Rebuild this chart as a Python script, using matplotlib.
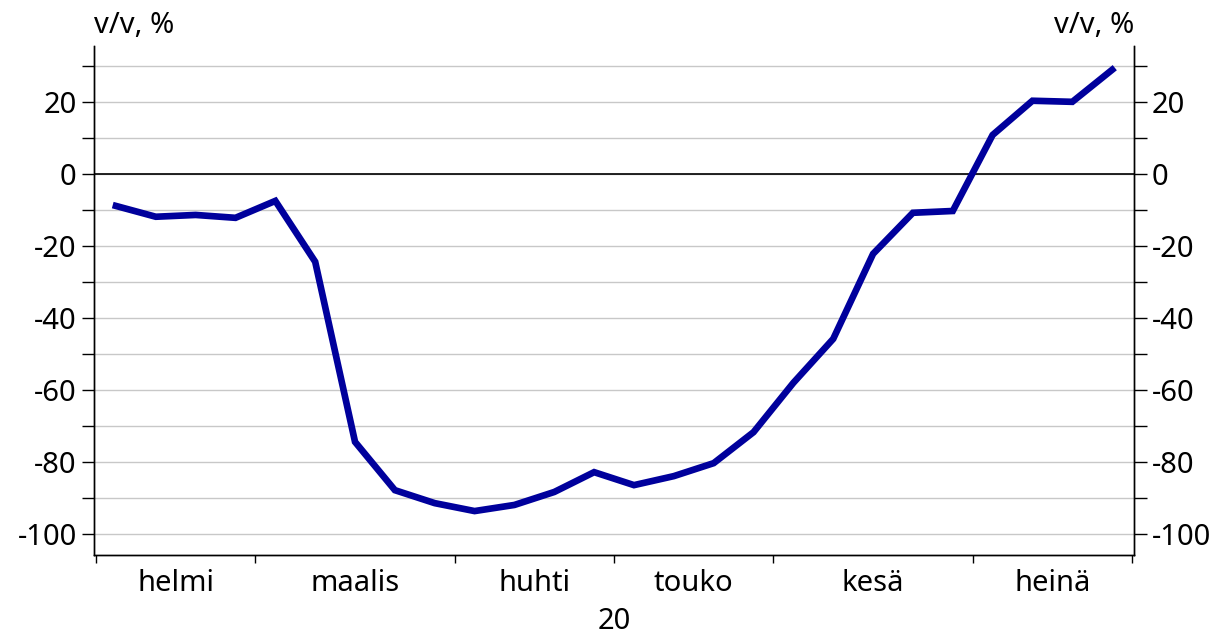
import matplotlib.pyplot as plt
from matplotlib.ticker import FixedLocator, MultipleLocator

plt.rcParams["font.family"] = ["Noto Sans", "DejaVu Sans"]
plt.rcParams["axes.unicode_minus"] = False

# weekly y/y change, Feb-Jul 2020
weekly_change = [-8.9, -11.9, -11.4, -12.2, -7.5, -24.4, -74.4, -87.8, -91.4,
                 -93.6, -91.9, -88.3, -82.8, -86.4, -83.9, -80.3, -71.7, -58.0,
                 -45.8, -22.2, -10.8, -10.3, 10.8, 20.3, 20.0, 28.9]
months = ["helmi", "maalis", "huhti", "touko", "kesä", "heinä"]
weeks_per_month = [4, 5, 4, 4, 5, 4]
year_label = "20"
unit_label = "v/v, %"

LINE_COLOR = "#00009c"
FS = 21

fig = plt.figure(figsize=(12.18, 6.37), dpi=100)
ax = fig.add_axes([0.0772, 0.1287, 0.8539, 0.7991])

weeks = list(range(len(weekly_change)))
ax.plot(weeks, weekly_change, color=LINE_COLOR, linewidth=4.8,
        solid_joinstyle="miter", zorder=3)

ax.set_xlim(-0.55, len(weekly_change) - 0.45)
ax.set_ylim(-105.8, 35.5)

# month boundaries and centres
bounds = [-0.5]
for n in weeks_per_month:
    bounds.append(bounds[-1] + n)
centres = [(bounds[i] + bounds[i + 1]) / 2 for i in range(len(months))]
ax.xaxis.set_major_locator(FixedLocator(bounds))
ax.set_xticklabels([])
ax.xaxis.set_minor_locator(FixedLocator(centres))
ax.set_xticklabels(months, minor=True, fontsize=FS)
ax.tick_params(axis="x", which="major", length=6, width=1, direction="out")
ax.tick_params(axis="x", which="minor", length=0, pad=10)

ax.yaxis.set_major_locator(MultipleLocator(20))
ax.yaxis.set_minor_locator(MultipleLocator(10))
ax.tick_params(axis="y", which="both", length=9, width=1, labelsize=FS)
ax.grid(axis="y", which="both", color="#c8c8c8", linewidth=1, zorder=1)
ax.axhline(0, color="black", linewidth=1.2, zorder=2)

ax2 = ax.twinx()
ax2.set_ylim(ax.get_ylim())
ax2.yaxis.set_major_locator(MultipleLocator(20))
ax2.yaxis.set_minor_locator(MultipleLocator(10))
ax2.tick_params(axis="y", which="both", length=9, width=1, labelsize=FS)

for a in (ax, ax2):
    a.spines["top"].set_visible(False)
    for s in ("left", "right", "bottom"):
        a.spines[s].set_linewidth(1)

fig.text(0.0772, 0.96, unit_label, fontsize=FS, ha="left", va="center")
fig.text(0.931, 0.96, unit_label, fontsize=FS, ha="right", va="center")
fig.text(0.0772 + 0.8539 / 2, 0.024, year_label, fontsize=FS,
         ha="center", va="center")

fig.savefig("out.png", dpi=100)
